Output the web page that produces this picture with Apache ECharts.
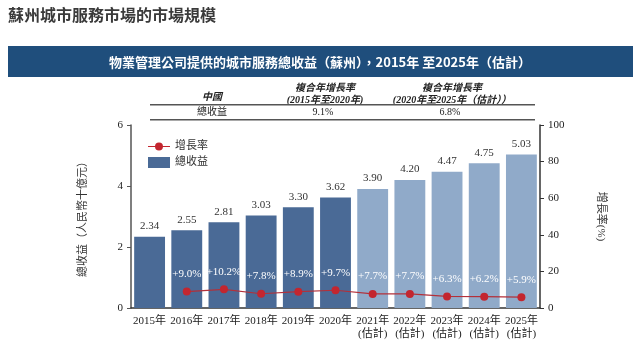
<!DOCTYPE html>
<html>
<head>
<meta charset="utf-8">
<script src="https://cdn.jsdelivr.net/npm/echarts@6/dist/echarts.min.js"></script>
<style>
  html, body { margin: 0; padding: 0; background: #fff; }
  #main { width: 639px; height: 351px; }
</style>
</head>
<body>
<div id="main"></div>
<script>
// 数据
var years = ['2015年', '2016年', '2017年', '2018年', '2019年', '2020年',
  '2021年\n(估計)', '2022年\n(估計)', '2023年\n(估計)', '2024年\n(估計)', '2025年\n(估計)'];
var revenue = [2.34, 2.55, 2.81, 3.03, 3.30, 3.62, 3.90, 4.20, 4.47, 4.75, 5.03];
var growth = [null, 9.0, 10.2, 7.8, 8.9, 9.7, 7.7, 7.7, 6.3, 6.2, 5.9];
var leftTicks = [0, 2, 4, 6];
var rightTicks = [0, 20, 40, 60, 80, 100];
var cagr = ['9.1%', '6.8%'];

var serif = '"Liberation Serif", "Noto Sans CJK TC", serif';
var darkBar = '#4a6a96';
var lightBar = '#90aac9';

var chart = echarts.init(document.getElementById('main'));

var option = {
  backgroundColor: '#fff',
  animation: false,
  grid: { left: 131, right: 99, top: 125, bottom: 43 },
  legend: {
    orient: 'vertical',
    left: 143,
    top: 136,
    itemWidth: 22,
    itemHeight: 11,
    itemGap: 5,
    textStyle: { fontSize: 11, color: '#333', fontFamily: serif },
    data: [
      { name: '增長率', icon: 'path://M0,5 L22,5 L22,6 L0,6 Z M11,1.5 A4,4 0 1 1 10.99,1.5 Z' },
      { name: '總收益', icon: 'rect' }
    ]
  },
  xAxis: {
    type: 'category',
    data: years,
    axisTick: { show: false },
    axisLine: { lineStyle: { color: '#333', width: 1.5 } },
    axisLabel: { color: '#222', fontSize: 11, fontFamily: serif, lineHeight: 13, margin: 7, interval: 0 }
  },
  yAxis: [
    {
      type: 'value', min: 0, max: 6, interval: 2,
      name: '總收益（人民幣十億元）',
      nameLocation: 'middle', nameGap: 42, nameRotate: 90,
      nameTextStyle: { fontSize: 11, color: '#333', fontFamily: serif },
      splitLine: { show: false },
      axisLine: { show: true, lineStyle: { color: '#555', width: 1.5 } },
      axisTick: { show: true, length: 4, lineStyle: { color: '#555' } },
      axisLabel: { color: '#222', fontSize: 11, fontFamily: serif, margin: 8,
        formatter: function (v) { return leftTicks.indexOf(v) > -1 ? v : ''; } }
    },
    {
      type: 'value', min: 0, max: 100, interval: 20,
      name: '增長率(%)',
      nameLocation: 'middle', nameGap: 55, nameRotate: -90,
      nameTextStyle: { fontSize: 11, color: '#333', fontFamily: serif },
      splitLine: { show: false },
      axisLine: { show: true, lineStyle: { color: '#333', width: 1.5 } },
      axisTick: { show: true, length: 4, lineStyle: { color: '#333' } },
      axisLabel: { color: '#222', fontSize: 11, fontFamily: serif, margin: 8,
        formatter: function (v) { return rightTicks.indexOf(v) > -1 ? v : ''; } }
    }
  ],
  series: [
    {
      name: '總收益',
      type: 'bar',
      barCategoryGap: '17%',
      itemStyle: { color: darkBar },
      data: revenue.map(function (v, i) {
        return { value: v, itemStyle: { color: i < 6 ? darkBar : lightBar } };
      }),
      label: {
        show: true, position: 'top', distance: 5,
        color: '#333', fontSize: 11, fontFamily: serif,
        formatter: function (p) { return p.value.toFixed(2); }
      }
    },
    {
      name: '增長率',
      type: 'line',
      yAxisIndex: 1,
      data: growth,
      symbol: 'circle',
      symbolSize: 8,
      itemStyle: { color: '#c3262f' },
      lineStyle: { color: '#b3303a', width: 1.2 },
      label: {
        show: true, position: 'top', distance: 8,
        color: '#fff', fontSize: 11, fontFamily: serif,
        formatter: function (p) { return '+' + p.value.toFixed(1) + '%'; }
      },
      z: 5
    }
  ],
  graphic: [
    {
      type: 'text', left: 8, top: 7,
      style: { text: '蘇州城市服務市場的市場規模', fontSize: 16, fontWeight: 'bold',
        fill: '#3a3a3a', fontFamily: '"Noto Sans CJK TC", sans-serif' }
    },
    { type: 'rect', shape: { x: 8, y: 46, width: 625, height: 31 }, style: { fill: '#1f4e7c' } },
    {
      type: 'text', x: 320, y: 62,
      style: { text: '物業管理公司提供的城市服務總收益（蘇州），2015年 至2025年（估計）',
        fontSize: 13, fontWeight: 'bold', fill: '#fff', align: 'center', verticalAlign: 'middle',
        fontFamily: '"Noto Sans CJK TC", sans-serif' }
    },
    {
      type: 'text', x: 212, y: 97,
      style: { text: '中國', fontSize: 10, fontWeight: 'bold', fontStyle: 'italic', fill: '#222',
        align: 'center', verticalAlign: 'middle', fontFamily: serif }
    },
    {
      type: 'text', x: 325, y: 94,
      style: { text: '複合年增長率\n(2015年至2020年)', fontSize: 10, fontWeight: 'bold', fontStyle: 'italic',
        fill: '#222', align: 'center', verticalAlign: 'middle', lineHeight: 12, fontFamily: serif }
    },
    {
      type: 'text', x: 452, y: 94,
      style: { text: '複合年增長率\n(2020年至2025年（估計））', fontSize: 10, fontWeight: 'bold', fontStyle: 'italic',
        fill: '#222', align: 'center', verticalAlign: 'middle', lineHeight: 12, fontFamily: serif }
    },
    { type: 'rect', shape: { x: 150, y: 104, width: 385, height: 1.5 }, style: { fill: '#555' } },
    {
      type: 'text', x: 212, y: 112,
      style: { text: '總收益', fontSize: 10, fill: '#222', align: 'center', verticalAlign: 'middle', fontFamily: serif }
    },
    {
      type: 'text', x: 323, y: 112,
      style: { text: cagr[0], fontSize: 10, fill: '#222', align: 'center', verticalAlign: 'middle', fontFamily: serif }
    },
    {
      type: 'text', x: 450, y: 112,
      style: { text: cagr[1], fontSize: 10, fill: '#222', align: 'center', verticalAlign: 'middle', fontFamily: serif }
    },
    { type: 'rect', shape: { x: 150, y: 119, width: 385, height: 1.5 }, style: { fill: '#555' } }
  ]
};

chart.setOption(option);
</script>
</body>
</html>
